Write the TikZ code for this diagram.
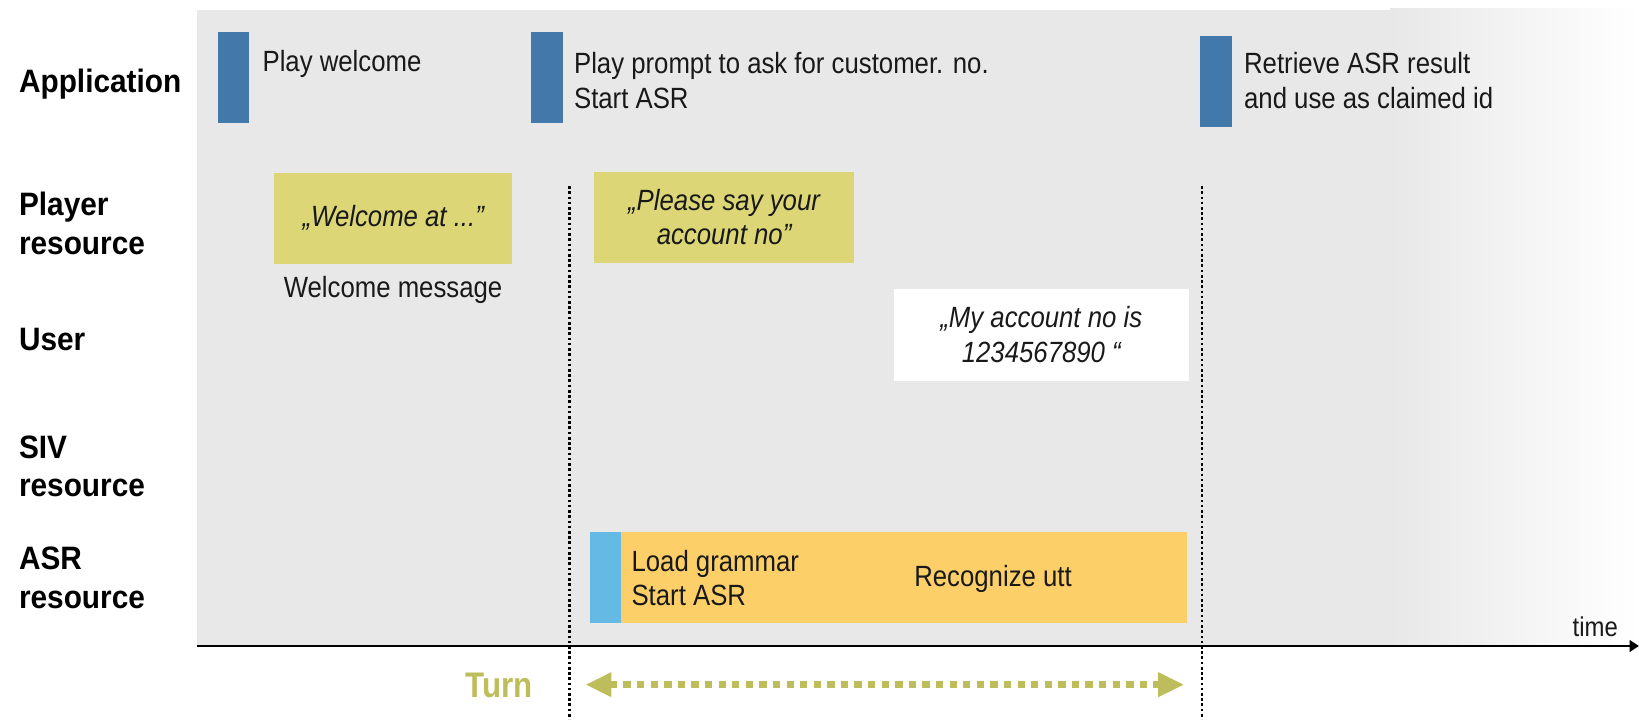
\documentclass[tikz,border=0pt]{standalone}
\usepackage{fontspec}
\setmainfont{Liberation Sans}[FakeStretch=0.88]
\newfontfamily\lanefont{Liberation Sans}[FakeStretch=0.92]
\usetikzlibrary{arrows.meta}
\definecolor{bgrey}{HTML}{E8E8E8}
\definecolor{appblue}{HTML}{4279AA}
\definecolor{olivebox}{HTML}{DDD676}
\definecolor{asrblue}{HTML}{64B9E5}
\definecolor{asrorange}{HTML}{FDCF69}
\definecolor{turngreen}{HTML}{BDBD5B}
\begin{document}
\begin{tikzpicture}[x=1pt,y=-1pt,
  lane/.style={font=\lanefont\fontsize{31}{37}\selectfont\bfseries, anchor=west, align=left, inner sep=0pt},
  txt/.style={font=\fontsize{28}{33}\selectfont, anchor=west, align=left, inner sep=0pt, text=black!90},
  quote/.style={font=\fontsize{28}{33}\selectfont\itshape, align=center, inner sep=0pt, text=black!90},
  appbar/.style={fill=appblue, draw=none, anchor=north west, minimum width=30pt, minimum height=87pt, inner sep=0pt},
  playbox/.style={fill=olivebox, draw=none, anchor=north west, minimum height=87pt, inner sep=0pt, quote},
  userbox/.style={fill=white, draw=none, anchor=north west, minimum height=88pt, inner sep=0pt, quote},
  dotline/.style={line width=2.5pt, dash pattern=on 2.5pt off 2.5pt},
  turnarrow/.style={turngreen, line width=7pt, dash pattern=on 7pt off 6pt,
    {Triangle[length=25pt,width=22pt]}-{Triangle[length=25pt,width=22pt]}}
]
\useasboundingbox (0,0) rectangle (1568,688);
% background
\fill[bgrey] (188,10) rectangle (1331,618);
\shade[left color=bgrey, right color=white] (1330,8) rectangle (1568,618);

% lane labels
\node[lane] (lApp) at (18,80) {Application};
\node[lane] (lPlay) at (18,214) {Player\\resource};
\node[lane] (lUser) at (18,325) {User};
\node[lane] (lSIV) at (18,446) {SIV\\resource};
\node[lane] (lASR) at (18,553) {ASR\\resource};

% application
\node[appbar] (a1) at (208,30) {};
\node[appbar] (a2) at (508,30) {};
\node[appbar] (a3) at (1148,34) {};
\node[txt] (t1) at (251,61) {Play welcome};
\node[txt] (t2) at (549,77) {Play prompt to ask for customer. no.\\Start ASR};
\node[txt] (t3) at (1190,77) {Retrieve ASR result\\and use as claimed id};

% player
\node[playbox, minimum width=228pt] (p1) at (262,165) {„Welcome at ...”};
\node[txt, anchor=center] (p1l) at (376,277) {Welcome message};
\node[playbox, minimum width=249pt] (p2) at (568,164) {„Please say your\\account no”};

% user
\node[userbox, minimum width=282pt] (u1) at (855,276) {„My account no is\\1234567890 “};

% ASR
\node[fill=asrorange, anchor=north west, minimum width=541pt, minimum height=87pt, inner sep=0pt] (asr) at (594,509) {};
\node[fill=asrblue, anchor=north west, minimum width=30pt, minimum height=87pt, inner sep=0pt] (asrb) at (564,509) {};
\node[txt] (asrt1) at (604,553) {Load grammar\\Start ASR};
\node[txt, anchor=center] (asrt2) at (950,554) {Recognize utt};

% dotted turn boundaries
\coordinate (d0a) at (545,178);
\coordinate (d0b) at (545,688);
\coordinate (d1a) at (1150,178);
\coordinate (d1b) at (1150,688);
\draw[dotline] (d0a) -- (d0b);
\draw[dotline] (d1a) -- (d1b);

% time axis
\coordinate (ax0) at (188,618);
\coordinate (ax1) at (1568,618);
\draw[line width=2.5pt, -{Triangle[length=9pt,width=11pt]}] (ax0) -- (ax1);
\node[txt, anchor=east, font=\fontsize{26}{30}\selectfont] (time) at (1548,600) {time};

% turn
\node[inner sep=0pt, anchor=east, text=turngreen, font=\fontsize{34}{40}\selectfont\bfseries] (turn) at (510,656) {Turn};
\coordinate (tr0) at (560,655);
\coordinate (tr1) at (1133,655);
\draw[turnarrow] (tr0) -- (tr1);
\end{tikzpicture}
\end{document}
